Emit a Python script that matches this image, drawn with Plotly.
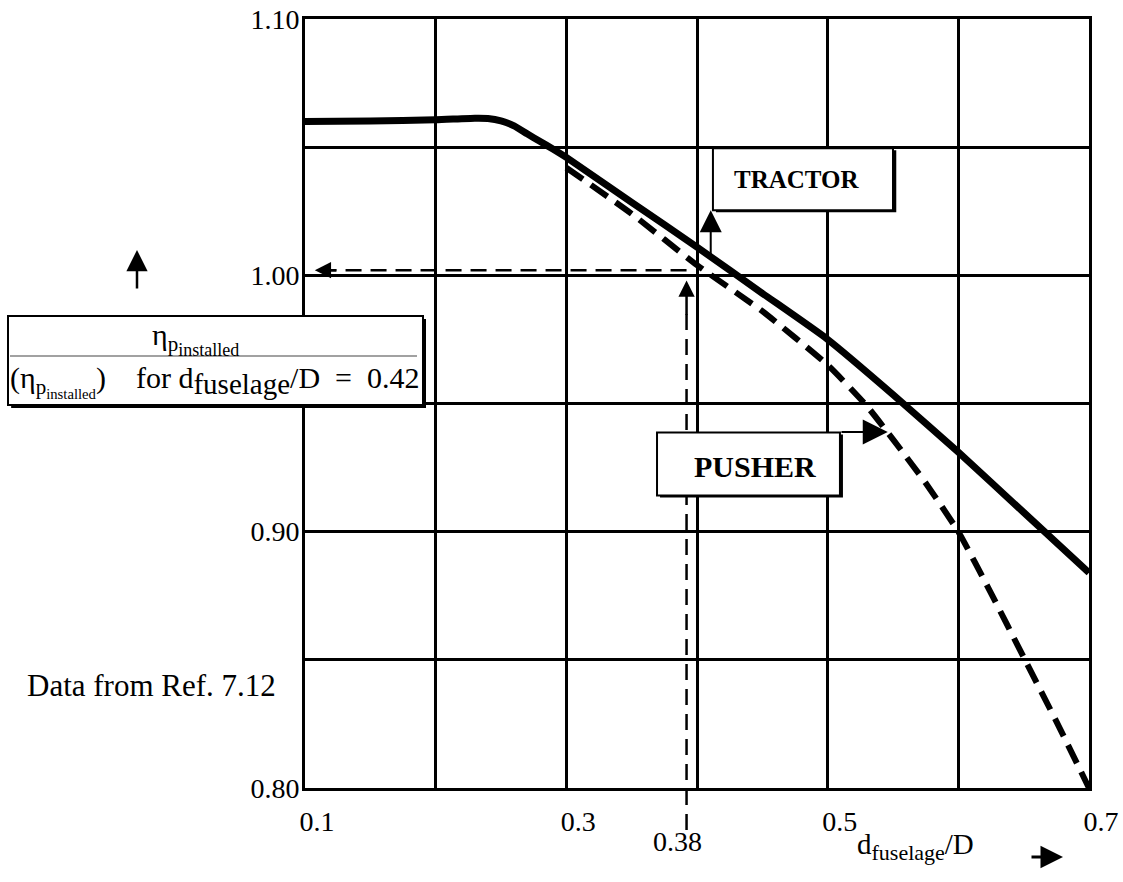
import plotly.graph_objects as go

# curves
tractor_x = [0.10, 0.15, 0.20, 0.23, 0.24, 0.25, 0.26, 0.27, 0.28, 0.29, 0.30, 0.35, 0.40, 0.45, 0.50, 0.55, 0.60, 0.65, 0.70]
tractor_y = [1.060, 1.0602, 1.0607, 1.0613, 1.0612, 1.0603, 1.0583, 1.0552, 1.0522, 1.0492, 1.046, 1.0285, 1.011, 0.993, 0.975, 0.9535, 0.931, 0.9075, 0.884]

pusher_x = [0.30, 0.35, 0.40, 0.45, 0.50, 0.53, 0.55, 0.575, 0.60, 0.625, 0.65, 0.675, 0.70]
pusher_y = [1.042, 1.024, 1.004, 0.986, 0.965, 0.949, 0.936, 0.919, 0.900, 0.876, 0.851, 0.826, 0.800]

x_ticks = [0.1, 0.2, 0.3, 0.4, 0.5, 0.6, 0.7]
x_text = ["0.1", "", "0.3", "", "0.5", "", "0.7"]
y_ticks = [0.80, 0.85, 0.90, 0.95, 1.00, 1.05, 1.10]
y_text = ["0.80", "", "0.90", "", "1.00", "", "1.10"]

mark_x = 0.392     # where the 0.38 read-off line sits in the drawing
mark_label = "0.38"
ref_ratio = 1.002  # efficiency ratio read at that point

FONT = "Liberation Serif"
W, H = 1123, 882
L, R, T, B = 305, 34, 19, 94
X0, X1 = 0.1, 0.7
Y0, Y1 = 0.80, 1.10


def px(x, y):
    # page pixel -> paper coords
    return (x - L) / (W - L - R), (H - B - y) / (H - T - B)


def ypaper(v):
    return (v - Y0) / (Y1 - Y0)


fig = go.Figure()
fig.add_trace(go.Scatter(x=tractor_x, y=tractor_y, mode="lines", name="TRACTOR",
                         line=dict(color="black", width=7, shape="spline", smoothing=0.5)))
fig.add_trace(go.Scatter(x=pusher_x, y=pusher_y, mode="lines", name="PUSHER",
                         line=dict(color="black", width=6, dash="20px,10px", shape="spline", smoothing=0.5)))

shapes = []
ann = []
thin_dash = dict(color="black", width=2.5, dash="16px,9px")

# dashed read-off lines
shapes.append(dict(type="line", xref="x", yref="y", x0=mark_x, x1=0.118, y0=ref_ratio, y1=ref_ratio,
                   line=thin_dash))
p0 = px(0, 830)
shapes.append(dict(type="line", xref="x", yref="paper", x0=mark_x, x1=mark_x, y0=p0[1], y1=ypaper(0.985),
                   line=thin_dash))
ann.append(dict(x=0.1075, y=ref_ratio, ax=0.125, ay=ref_ratio, xref="x", yref="y", axref="x", ayref="y",
                text="", showarrow=True, arrowhead=2, arrowsize=1.3, arrowwidth=2.5, arrowcolor="black"))
ann.append(dict(x=mark_x, y=0.998, ax=mark_x, ay=0.984, xref="x", yref="y", axref="x", ayref="y",
                text="", showarrow=True, arrowhead=2, arrowsize=1.3, arrowwidth=2.5, arrowcolor="black"))

# TRACTOR box + arrow
shapes.append(dict(type="rect", xref="x", yref="y", x0=0.4145, x1=0.5525, y0=1.0246, y1=1.0488,
                   line=dict(width=0), fillcolor="black", layer="above"))
shapes.append(dict(type="rect", xref="x", yref="y", x0=0.4122, x1=0.550, y0=1.0254, y1=1.0496,
                   line=dict(color="black", width=2), fillcolor="white", layer="above"))
ann.append(dict(x=0.4765, y=1.0375, xref="x", yref="y", text="<b>TRACTOR</b>", showarrow=False,
                font=dict(family=FONT, size=25, color="black")))
ann.append(dict(x=0.4105, y=1.0254, ax=0.4105, ay=1.0072, xref="x", yref="y", axref="x", ayref="y",
                text="", showarrow=True, arrowhead=2, arrowsize=2.2, arrowwidth=2, arrowcolor="black"))

# PUSHER box + arrow
shapes.append(dict(type="rect", xref="x", yref="y", x0=0.3717, x1=0.5117, y0=0.9133, y1=0.9379,
                   line=dict(width=0), fillcolor="black", layer="above"))
shapes.append(dict(type="rect", xref="x", yref="y", x0=0.3694, x1=0.5094, y0=0.9141, y1=0.9387,
                   line=dict(color="black", width=2), fillcolor="white", layer="above"))
ann.append(dict(x=0.4445, y=0.9255, xref="x", yref="y", text="<b>PUSHER</b>", showarrow=False,
                font=dict(family=FONT, size=30, color="black")))
ann.append(dict(x=0.546, y=0.9389, ax=0.5094, ay=0.9389, xref="x", yref="y", axref="x", ayref="y",
                text="", showarrow=True, arrowhead=2, arrowsize=2.5, arrowwidth=2, arrowcolor="black"))

# y-axis label box on the left
a = px(8, 316)
b = px(423, 405)
c = px(426, 408)
shapes.append(dict(type="rect", xref="paper", yref="paper", x0=a[0] + 0.004, x1=c[0], y0=c[1], y1=a[1] - 0.004,
                   line=dict(width=0), fillcolor="black", layer="above"))
shapes.append(dict(type="rect", xref="paper", yref="paper", x0=a[0], x1=b[0], y0=b[1], y1=a[1],
                   line=dict(color="black", width=2), fillcolor="white", layer="above"))
f0 = px(10, 356)
f1 = px(417, 356)
shapes.append(dict(type="line", xref="paper", yref="paper", x0=f0[0], x1=f1[0], y0=f0[1], y1=f1[1],
                   line=dict(color="#444", width=1.2), layer="above"))
num = px(150, 339)
ann.append(dict(x=num[0], y=num[1], xref="paper", yref="paper", xanchor="left", align="left", showarrow=False,
                text="η<sub>p<sub><span style='font-size:18px'>installed</span></sub></sub>",
                font=dict(family=FONT, size=30, color="black")))
den = px(8, 381)
nb = "\u00a0"
ann.append(dict(x=den[0], y=den[1], xref="paper", yref="paper", xanchor="left", align="left", showarrow=False,
                text="(η<sub>p<sub>installed</sub></sub>)" + nb * 3 + " for d<sub><span style='font-size:29px'>fuselage</span></sub>/D"
                     + nb + " =" + nb + " 0.42",
                font=dict(family=FONT, size=30, color="black")))

# small up arrow above the box
up = px(137, 250)
ann.append(dict(x=up[0], y=up[1], xref="paper", yref="paper", ax=0, ay=40, text="", showarrow=True,
                arrowhead=2, arrowsize=1.7, arrowwidth=2.5, arrowcolor="black"))

# note
nt = px(25, 705)
ann.append(dict(x=nt[0], y=nt[1], xref="paper", yref="paper", xanchor="left", showarrow=False,
                text="Data from Ref. 7.12", font=dict(family=FONT, size=31, color="black")))

# x labels below the axis
m = px(0, 859)
ann.append(dict(x=mark_x - 0.007, y=m[1], xref="x", yref="paper", showarrow=False, text=mark_label,
                font=dict(family=FONT, size=28, color="black")))
xl = px(855, 867)
ann.append(dict(x=xl[0], y=xl[1], xref="paper", yref="paper", xanchor="left", align="left", showarrow=False,
                text="d<sub><span style='font-size:22px'>fuselage</span></sub>/D",
                font=dict(family=FONT, size=29, color="black")))
ar = px(1063, 857)
ann.append(dict(x=ar[0], y=ar[1], xref="paper", yref="paper", ax=-33, ay=0, text="", showarrow=True,
                arrowhead=2, arrowsize=1.5, arrowwidth=3, arrowcolor="black"))

fig.update_layout(
    width=W, height=H,
    margin=dict(l=L, r=R, t=T, b=B, autoexpand=False),
    paper_bgcolor="white", plot_bgcolor="white",
    showlegend=False,
    font=dict(family=FONT, size=28, color="black"),
    shapes=shapes, annotations=ann,
)
fig.update_xaxes(range=[X0, X1], tickvals=x_ticks, ticktext=x_text, showgrid=True, gridcolor="black",
                 gridwidth=2.5, showline=True, linecolor="black", linewidth=3, mirror=True, zeroline=False,
                 ticks="", ticklabelshift=12, ticklabelstandoff=6, automargin=False)
fig.update_yaxes(range=[Y0, Y1], tickvals=y_ticks, ticktext=y_text, showgrid=True, gridcolor="black",
                 gridwidth=2.5, showline=True, linecolor="black", linewidth=3, mirror=True, zeroline=False,
                 ticks="", ticklabelstandoff=-3, automargin=False)

# the page body has an 8px default margin; drop it so the figure sits at the window corner
fig.write_html("out.html", config={"displayModeBar": False},
               post_script="document.body.style.margin='0px';")
